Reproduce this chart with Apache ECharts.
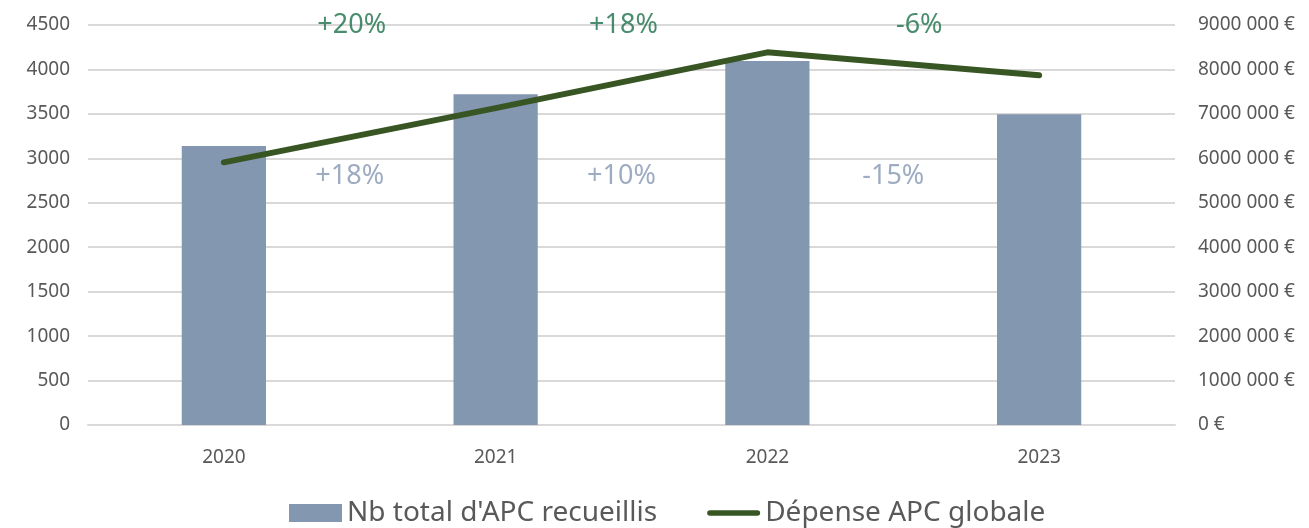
<!DOCTYPE html>
<html>
<head>
<meta charset="utf-8">
<script src="https://cdn.jsdelivr.net/npm/echarts@6/dist/echarts.min.js"></script>
<style>html,body{margin:0;padding:0;background:#fff}#c{width:1309px;height:528px}</style>
</head>
<body>
<div id="c"></div>
<script>
const categories = ['2020', '2021', '2022', '2023'];
const apcCount = [3140, 3720, 4095, 3495];
const apcSpend = [5910000, 7130000, 8385000, 7870000];
const spendChangeLabels = ['+20%', '+18%', '-6%'];
const countChangeLabels = ['+18%', '+10%', '-15%'];
const leftTicks = { min: 0, max: 4500, interval: 500 };
const rightTicks = { min: 0, max: 9000000, interval: 1000000 };

const FONT = '"Noto Sans", sans-serif';
const chart = echarts.init(document.getElementById('c'), null, { renderer: 'canvas' });

function euro(v) {
  if (v === 0) return '0 €';
  return Math.floor(v / 1000) + ' ' + String(v % 1000).padStart(3, '0') + ' €';
}

const greenPts = spendChangeLabels.map((t, i) => ({
  value: [i + 1, leftTicks.max], name: t,
  label: { offset: [i === spendChangeLabels.length - 1 ? 16 : -8, 0] }
}));
const bluePts = countChangeLabels.map((t, i) => ({ value: [i + 1, 2800], name: t }));

chart.setOption({
  animation: false,
  textStyle: { fontFamily: FONT },
  grid: { left: 88, right: 134, top: 25, bottom: 103, containLabel: false },
  legend: {
    bottom: -4,
    left: 284,
    itemWidth: 53,
    itemHeight: 18,
    itemGap: 50,
    symbolKeepAspect: true,
    textStyle: { fontFamily: FONT, fontSize: 28, color: '#595959' },
    data: [
      { name: "Nb total d'APC recueillis", icon: 'rect' },
      { name: 'Dépense APC globale', icon: 'path://M3,0 L54,0 A3,3 0 0 1 54,6 L3,6 A3,3 0 0 1 3,0 Z', itemStyle: { color: '#375623' } }
    ]
  },
  xAxis: [
    {
      type: 'category',
      data: categories,
      axisLine: { lineStyle: { color: '#d9d9d9', width: 2 } },
      axisTick: { show: false },
      axisLabel: { color: '#595959', fontSize: 19, fontFamily: FONT, margin: 23 }
    },
    {
      type: 'value', min: 0, max: categories.length, show: false
    }
  ],
  yAxis: [
    {
      type: 'value',
      min: leftTicks.min, max: leftTicks.max, interval: leftTicks.interval,
      axisLine: { show: false }, axisTick: { show: false },
      axisLabel: { color: '#595959', fontSize: 19, fontFamily: FONT, margin: 18, formatter: v => String(v) },
      splitLine: { lineStyle: { color: '#d9d9d9', width: 2 } }
    },
    {
      type: 'value',
      min: rightTicks.min, max: rightTicks.max, interval: rightTicks.interval,
      position: 'right',
      axisLine: { show: false }, axisTick: { show: false },
      axisLabel: { color: '#595959', fontSize: 19, fontFamily: FONT, margin: 23, formatter: euro },
      splitLine: { show: false }
    }
  ],
  series: [
    {
      name: "Nb total d'APC recueillis",
      type: 'bar',
      data: apcCount,
      barWidth: '31%',
      itemStyle: { color: '#8497b0' }
    },
    {
      name: 'Dépense APC globale',
      type: 'line',
      yAxisIndex: 1,
      data: apcSpend,
      symbol: 'none',
      lineStyle: { color: '#375623', width: 6, cap: 'round', join: 'round' },
      itemStyle: { color: '#375623' }
    },
    {
      type: 'scatter',
      xAxisIndex: 1,
      yAxisIndex: 0,
      data: greenPts,
      symbolSize: 0,
      silent: true,
      label: { show: true, position: 'inside', formatter: p => p.name, color: '#1a7048', fontSize: 27, fontFamily: FONT }
    },
    {
      type: 'scatter',
      xAxisIndex: 1,
      yAxisIndex: 0,
      data: bluePts,
      symbolSize: 0,
      silent: true,
      label: { show: true, position: 'inside', formatter: p => p.name, color: '#8497b0', fontSize: 27, fontFamily: FONT, offset: [-10, 0] }
    }
  ]
});
</script>
</body>
</html>
